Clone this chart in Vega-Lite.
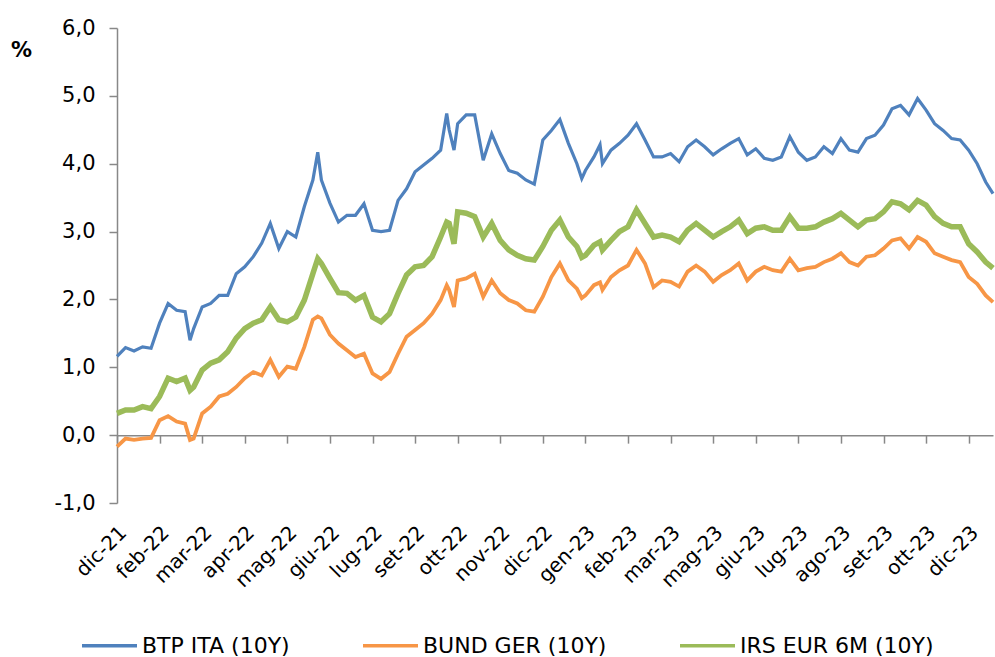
{
  "$schema": "https://vega.github.io/schema/vega-lite/v6.json",
  "width": 876,
  "height": 475,
  "autosize": "none",
  "padding": {"left": 117, "top": 28, "right": 2, "bottom": 154},
  "background": "white",
  "config": {
    "view": {"stroke": null},
    "font": "DejaVu Sans",
    "locale": {"number": {"decimal": ",", "thousands": ".", "grouping": [3], "currency": ["€", ""], "minus": "-"}},
    "legend": {
      "orient": "none", "legendX": -37, "legendY": 588, "direction": "horizontal", "columns": 3,
      "symbolType": "stroke", "symbolSize": 3025, "symbolStrokeWidth": 3.5,
      "labelFontSize": 22, "labelColor": "black", "labelFont": "DejaVu Sans",
      "columnPadding": 66, "labelOffset": 3, "labelLimit": 400
    }
  },
  "encoding": {
    "x": {
      "field": "d", "type": "temporal",
      "scale": {"type": "utc", "domain": [{"year": 2021, "month": 12, "date": 31, "utc": true}, {"year": 2023, "month": 12, "date": 21, "utc": true}]},
      "axis": {
        "title": null, "grid": false,
        "values": [
          {"year": 2021, "month": 12, "date": 31, "utc": true},
          {"year": 2022, "month": 2, "date": 4, "utc": true},
          {"year": 2022, "month": 3, "date": 11, "utc": true},
          {"year": 2022, "month": 4, "date": 15, "utc": true},
          {"year": 2022, "month": 5, "date": 20, "utc": true},
          {"year": 2022, "month": 6, "date": 24, "utc": true},
          {"year": 2022, "month": 7, "date": 29, "utc": true},
          {"year": 2022, "month": 9, "date": 2, "utc": true},
          {"year": 2022, "month": 10, "date": 7, "utc": true},
          {"year": 2022, "month": 11, "date": 11, "utc": true},
          {"year": 2022, "month": 12, "date": 16, "utc": true},
          {"year": 2023, "month": 1, "date": 20, "utc": true},
          {"year": 2023, "month": 2, "date": 24, "utc": true},
          {"year": 2023, "month": 3, "date": 31, "utc": true},
          {"year": 2023, "month": 5, "date": 5, "utc": true},
          {"year": 2023, "month": 6, "date": 9, "utc": true},
          {"year": 2023, "month": 7, "date": 14, "utc": true},
          {"year": 2023, "month": 8, "date": 18, "utc": true},
          {"year": 2023, "month": 9, "date": 22, "utc": true},
          {"year": 2023, "month": 10, "date": 27, "utc": true},
          {"year": 2023, "month": 12, "date": 1, "utc": true}
        ],
        "labelExpr": "['gen','feb','mar','apr','mag','giu','lug','ago','set','ott','nov','dic'][utcmonth(datum.value)] + '-' + utcFormat(datum.value, '%y')",
        "labelAngle": -45, "labelAlign": "right", "labelBaseline": "middle",
        "labelFontSize": 20, "labelColor": "black", "labelPadding": 86, "labelOffset": 6,
        "labelOverlap": false, "labelBound": false, "labelFlush": false,
        "tickSize": 8, "tickColor": "#888888", "tickWidth": 1.5,
        "domainColor": "#888888", "domainWidth": 1.5,
        "offset": -67.86
      }
    },
    "y": {
      "field": "v", "type": "quantitative",
      "scale": {"domain": [-1, 6], "nice": false, "zero": false},
      "axis": {
        "title": "%", "titleAngle": 0, "titleFontSize": 21, "titleFontWeight": "bold", "titleColor": "black",
        "titleX": -96, "titleY": 22, "titleAlign": "center", "titleBaseline": "middle",
        "values": [-1, 0, 1, 2, 3, 4, 5, 6], "format": ".1f",
        "labelFontSize": 21, "labelColor": "black", "labelPadding": 14,
        "labelFlush": false, "labelBound": false,
        "tickSize": 8, "tickColor": "#888888", "tickWidth": 1.5,
        "domainColor": "#888888", "domainWidth": 1.5, "grid": false
      }
    }
  },
  "layer": [
    {
      "data": {"values": [
        {"d":"2021-12-31","v":1.16},{"d":"2022-01-07","v":1.29},{"d":"2022-01-14","v":1.24},{"d":"2022-01-21","v":1.30},{"d":"2022-01-28","v":1.28},
        {"d":"2022-02-04","v":1.65},{"d":"2022-02-11","v":1.94},{"d":"2022-02-18","v":1.84},{"d":"2022-02-25","v":1.82},{"d":"2022-03-01","v":1.40},
        {"d":"2022-03-04","v":1.57},{"d":"2022-03-11","v":1.89},{"d":"2022-03-18","v":1.94},{"d":"2022-03-25","v":2.06},{"d":"2022-04-01","v":2.06},
        {"d":"2022-04-08","v":2.38},{"d":"2022-04-15","v":2.48},{"d":"2022-04-22","v":2.63},{"d":"2022-04-29","v":2.83},{"d":"2022-05-06","v":3.12},
        {"d":"2022-05-13","v":2.75},{"d":"2022-05-20","v":3.00},{"d":"2022-05-27","v":2.92},{"d":"2022-06-03","v":3.37},{"d":"2022-06-10","v":3.76},
        {"d":"2022-06-14","v":4.17},{"d":"2022-06-17","v":3.76},{"d":"2022-06-24","v":3.42},{"d":"2022-07-01","v":3.14},{"d":"2022-07-08","v":3.24},
        {"d":"2022-07-15","v":3.24},{"d":"2022-07-22","v":3.41},{"d":"2022-07-29","v":3.02},{"d":"2022-08-05","v":3.00},{"d":"2022-08-12","v":3.02},
        {"d":"2022-08-19","v":3.46},{"d":"2022-08-26","v":3.63},{"d":"2022-09-02","v":3.88},{"d":"2022-09-09","v":3.98},{"d":"2022-09-16","v":4.08},
        {"d":"2022-09-23","v":4.20},{"d":"2022-09-28","v":4.74},{"d":"2022-09-30","v":4.50},{"d":"2022-10-04","v":4.20},{"d":"2022-10-07","v":4.59},
        {"d":"2022-10-14","v":4.72},{"d":"2022-10-21","v":4.72},{"d":"2022-10-28","v":4.05},{"d":"2022-11-04","v":4.44},{"d":"2022-11-11","v":4.15},
        {"d":"2022-11-18","v":3.90},{"d":"2022-11-25","v":3.86},{"d":"2022-12-02","v":3.76},{"d":"2022-12-09","v":3.70},{"d":"2022-12-16","v":4.35},
        {"d":"2022-12-23","v":4.49},{"d":"2022-12-30","v":4.65},{"d":"2023-01-06","v":4.30},{"d":"2023-01-13","v":4.00},{"d":"2023-01-17","v":3.78},{"d":"2023-01-20","v":3.90},
        {"d":"2023-01-27","v":4.10},{"d":"2023-02-01","v":4.28},{"d":"2023-02-03","v":4.00},{"d":"2023-02-10","v":4.20},{"d":"2023-02-17","v":4.30},{"d":"2023-02-24","v":4.42},
        {"d":"2023-03-03","v":4.59},{"d":"2023-03-10","v":4.35},{"d":"2023-03-17","v":4.10},{"d":"2023-03-24","v":4.10},{"d":"2023-03-31","v":4.15},
        {"d":"2023-04-07","v":4.03},{"d":"2023-04-14","v":4.25},{"d":"2023-04-21","v":4.35},{"d":"2023-04-28","v":4.25},{"d":"2023-05-05","v":4.13},
        {"d":"2023-05-12","v":4.22},{"d":"2023-05-19","v":4.30},{"d":"2023-05-26","v":4.37},{"d":"2023-06-02","v":4.13},{"d":"2023-06-09","v":4.22},
        {"d":"2023-06-16","v":4.08},{"d":"2023-06-23","v":4.05},{"d":"2023-06-30","v":4.10},{"d":"2023-07-07","v":4.40},{"d":"2023-07-14","v":4.17},
        {"d":"2023-07-21","v":4.05},{"d":"2023-07-28","v":4.10},{"d":"2023-08-04","v":4.25},{"d":"2023-08-11","v":4.15},{"d":"2023-08-18","v":4.37},
        {"d":"2023-08-25","v":4.20},{"d":"2023-09-01","v":4.17},{"d":"2023-09-08","v":4.37},{"d":"2023-09-15","v":4.42},{"d":"2023-09-22","v":4.57},
        {"d":"2023-09-29","v":4.81},{"d":"2023-10-06","v":4.86},{"d":"2023-10-13","v":4.72},{"d":"2023-10-20","v":4.96},{"d":"2023-10-27","v":4.79},
        {"d":"2023-11-03","v":4.59},{"d":"2023-11-10","v":4.49},{"d":"2023-11-17","v":4.37},{"d":"2023-11-24","v":4.35},{"d":"2023-12-01","v":4.20},
        {"d":"2023-12-08","v":4.00},{"d":"2023-12-15","v":3.73},{"d":"2023-12-21","v":3.56}
      ]},
      "mark": {"type": "line", "strokeWidth": 3.2},
      "encoding": {
        "color": {"datum": "BTP ITA (10Y)", "type": "nominal",
          "scale": {"domain": ["BTP ITA (10Y)", "BUND GER (10Y)", "IRS EUR 6M (10Y)"], "range": ["#4F81BD", "#F79646", "#9BBB59"]},
          "legend": {"title": null}}
      }
    },
    {
      "data": {"values": [
        {"d":"2021-12-31","v":-0.17},{"d":"2022-01-07","v":-0.05},{"d":"2022-01-14","v":-0.07},{"d":"2022-01-21","v":-0.05},{"d":"2022-01-28","v":-0.04},
        {"d":"2022-02-04","v":0.22},{"d":"2022-02-11","v":0.28},{"d":"2022-02-18","v":0.20},{"d":"2022-02-25","v":0.17},{"d":"2022-03-01","v":-0.07},
        {"d":"2022-03-04","v":-0.05},{"d":"2022-03-11","v":0.32},{"d":"2022-03-18","v":0.42},{"d":"2022-03-25","v":0.57},{"d":"2022-04-01","v":0.61},
        {"d":"2022-04-08","v":0.71},{"d":"2022-04-15","v":0.84},{"d":"2022-04-22","v":0.93},{"d":"2022-04-29","v":0.88},{"d":"2022-05-06","v":1.11},
        {"d":"2022-05-13","v":0.86},{"d":"2022-05-20","v":1.01},{"d":"2022-05-27","v":0.98},{"d":"2022-06-03","v":1.30},{"d":"2022-06-10","v":1.70},
        {"d":"2022-06-14","v":1.75},{"d":"2022-06-17","v":1.72},{"d":"2022-06-24","v":1.48},{"d":"2022-07-01","v":1.35},{"d":"2022-07-08","v":1.25},
        {"d":"2022-07-15","v":1.15},{"d":"2022-07-22","v":1.20},{"d":"2022-07-29","v":0.91},{"d":"2022-08-05","v":0.83},{"d":"2022-08-12","v":0.93},
        {"d":"2022-08-19","v":1.20},{"d":"2022-08-26","v":1.45},{"d":"2022-09-02","v":1.55},{"d":"2022-09-09","v":1.65},{"d":"2022-09-16","v":1.79},
        {"d":"2022-09-23","v":1.99},{"d":"2022-09-28","v":2.21},{"d":"2022-09-30","v":2.14},{"d":"2022-10-04","v":1.89},{"d":"2022-10-07","v":2.28},
        {"d":"2022-10-14","v":2.31},{"d":"2022-10-21","v":2.38},{"d":"2022-10-28","v":2.04},{"d":"2022-11-04","v":2.28},{"d":"2022-11-11","v":2.09},
        {"d":"2022-11-18","v":1.99},{"d":"2022-11-25","v":1.94},{"d":"2022-12-02","v":1.84},{"d":"2022-12-09","v":1.82},{"d":"2022-12-16","v":2.04},
        {"d":"2022-12-23","v":2.33},{"d":"2022-12-30","v":2.53},{"d":"2023-01-06","v":2.28},{"d":"2023-01-13","v":2.16},{"d":"2023-01-17","v":2.02},{"d":"2023-01-20","v":2.06},
        {"d":"2023-01-27","v":2.21},{"d":"2023-02-01","v":2.25},{"d":"2023-02-03","v":2.14},{"d":"2023-02-10","v":2.33},{"d":"2023-02-17","v":2.43},{"d":"2023-02-24","v":2.50},
        {"d":"2023-03-03","v":2.73},{"d":"2023-03-10","v":2.53},{"d":"2023-03-17","v":2.18},{"d":"2023-03-24","v":2.28},{"d":"2023-03-31","v":2.26},
        {"d":"2023-04-07","v":2.19},{"d":"2023-04-14","v":2.41},{"d":"2023-04-21","v":2.50},{"d":"2023-04-28","v":2.41},{"d":"2023-05-05","v":2.26},
        {"d":"2023-05-12","v":2.36},{"d":"2023-05-19","v":2.43},{"d":"2023-05-26","v":2.53},{"d":"2023-06-02","v":2.28},{"d":"2023-06-09","v":2.41},
        {"d":"2023-06-16","v":2.48},{"d":"2023-06-23","v":2.43},{"d":"2023-06-30","v":2.41},{"d":"2023-07-07","v":2.60},{"d":"2023-07-14","v":2.43},
        {"d":"2023-07-21","v":2.46},{"d":"2023-07-28","v":2.48},{"d":"2023-08-04","v":2.55},{"d":"2023-08-11","v":2.60},{"d":"2023-08-18","v":2.68},
        {"d":"2023-08-25","v":2.55},{"d":"2023-09-01","v":2.50},{"d":"2023-09-08","v":2.63},{"d":"2023-09-15","v":2.65},{"d":"2023-09-22","v":2.75},
        {"d":"2023-09-29","v":2.87},{"d":"2023-10-06","v":2.90},{"d":"2023-10-13","v":2.75},{"d":"2023-10-20","v":2.92},{"d":"2023-10-27","v":2.85},
        {"d":"2023-11-03","v":2.68},{"d":"2023-11-10","v":2.63},{"d":"2023-11-17","v":2.58},{"d":"2023-11-24","v":2.55},{"d":"2023-12-01","v":2.33},
        {"d":"2023-12-08","v":2.23},{"d":"2023-12-15","v":2.06},{"d":"2023-12-21","v":1.96}
      ]},
      "mark": {"type": "line", "strokeWidth": 3.8},
      "encoding": {"color": {"datum": "BUND GER (10Y)", "type": "nominal"}}
    },
    {
      "data": {"values": [
        {"d":"2021-12-31","v":0.32},{"d":"2022-01-07","v":0.37},{"d":"2022-01-14","v":0.37},{"d":"2022-01-21","v":0.42},{"d":"2022-01-28","v":0.39},
        {"d":"2022-02-04","v":0.57},{"d":"2022-02-11","v":0.84},{"d":"2022-02-18","v":0.79},{"d":"2022-02-25","v":0.84},{"d":"2022-03-01","v":0.66},
        {"d":"2022-03-04","v":0.71},{"d":"2022-03-11","v":0.96},{"d":"2022-03-18","v":1.06},{"d":"2022-03-25","v":1.11},{"d":"2022-04-01","v":1.23},
        {"d":"2022-04-08","v":1.43},{"d":"2022-04-15","v":1.57},{"d":"2022-04-22","v":1.65},{"d":"2022-04-29","v":1.70},{"d":"2022-05-06","v":1.89},
        {"d":"2022-05-13","v":1.70},{"d":"2022-05-20","v":1.67},{"d":"2022-05-27","v":1.74},{"d":"2022-06-03","v":1.99},{"d":"2022-06-10","v":2.38},
        {"d":"2022-06-14","v":2.60},{"d":"2022-06-17","v":2.53},{"d":"2022-06-24","v":2.31},{"d":"2022-07-01","v":2.10},{"d":"2022-07-08","v":2.09},
        {"d":"2022-07-15","v":1.99},{"d":"2022-07-22","v":2.06},{"d":"2022-07-29","v":1.74},{"d":"2022-08-05","v":1.67},{"d":"2022-08-12","v":1.79},
        {"d":"2022-08-19","v":2.09},{"d":"2022-08-26","v":2.36},{"d":"2022-09-02","v":2.48},{"d":"2022-09-09","v":2.50},{"d":"2022-09-16","v":2.63},
        {"d":"2022-09-23","v":2.92},{"d":"2022-09-28","v":3.14},{"d":"2022-09-30","v":3.12},{"d":"2022-10-04","v":2.82},{"d":"2022-10-07","v":3.29},
        {"d":"2022-10-14","v":3.27},{"d":"2022-10-21","v":3.22},{"d":"2022-10-28","v":2.92},{"d":"2022-11-04","v":3.12},{"d":"2022-11-11","v":2.87},
        {"d":"2022-11-18","v":2.73},{"d":"2022-11-25","v":2.65},{"d":"2022-12-02","v":2.60},{"d":"2022-12-09","v":2.58},{"d":"2022-12-16","v":2.78},
        {"d":"2022-12-23","v":3.02},{"d":"2022-12-30","v":3.17},{"d":"2023-01-06","v":2.92},{"d":"2023-01-13","v":2.78},{"d":"2023-01-17","v":2.62},{"d":"2023-01-20","v":2.65},
        {"d":"2023-01-27","v":2.80},{"d":"2023-02-01","v":2.85},{"d":"2023-02-03","v":2.73},{"d":"2023-02-10","v":2.87},{"d":"2023-02-17","v":3.00},{"d":"2023-02-24","v":3.07},
        {"d":"2023-03-03","v":3.32},{"d":"2023-03-10","v":3.12},{"d":"2023-03-17","v":2.92},{"d":"2023-03-24","v":2.95},{"d":"2023-03-31","v":2.92},
        {"d":"2023-04-07","v":2.85},{"d":"2023-04-14","v":3.02},{"d":"2023-04-21","v":3.12},{"d":"2023-04-28","v":3.02},{"d":"2023-05-05","v":2.92},
        {"d":"2023-05-12","v":3.00},{"d":"2023-05-19","v":3.07},{"d":"2023-05-26","v":3.17},{"d":"2023-06-02","v":2.97},{"d":"2023-06-09","v":3.05},
        {"d":"2023-06-16","v":3.07},{"d":"2023-06-23","v":3.02},{"d":"2023-06-30","v":3.02},{"d":"2023-07-07","v":3.22},{"d":"2023-07-14","v":3.05},
        {"d":"2023-07-21","v":3.05},{"d":"2023-07-28","v":3.07},{"d":"2023-08-04","v":3.14},{"d":"2023-08-11","v":3.19},{"d":"2023-08-18","v":3.27},
        {"d":"2023-08-25","v":3.17},{"d":"2023-09-01","v":3.07},{"d":"2023-09-08","v":3.17},{"d":"2023-09-15","v":3.19},{"d":"2023-09-22","v":3.29},
        {"d":"2023-09-29","v":3.44},{"d":"2023-10-06","v":3.41},{"d":"2023-10-13","v":3.32},{"d":"2023-10-20","v":3.46},{"d":"2023-10-27","v":3.39},
        {"d":"2023-11-03","v":3.22},{"d":"2023-11-10","v":3.12},{"d":"2023-11-17","v":3.07},{"d":"2023-11-24","v":3.07},{"d":"2023-12-01","v":2.82},
        {"d":"2023-12-08","v":2.70},{"d":"2023-12-15","v":2.55},{"d":"2023-12-21","v":2.46}
      ]},
      "mark": {"type": "line", "strokeWidth": 5.5},
      "encoding": {"color": {"datum": "IRS EUR 6M (10Y)", "type": "nominal"}}
    }
  ]
}
